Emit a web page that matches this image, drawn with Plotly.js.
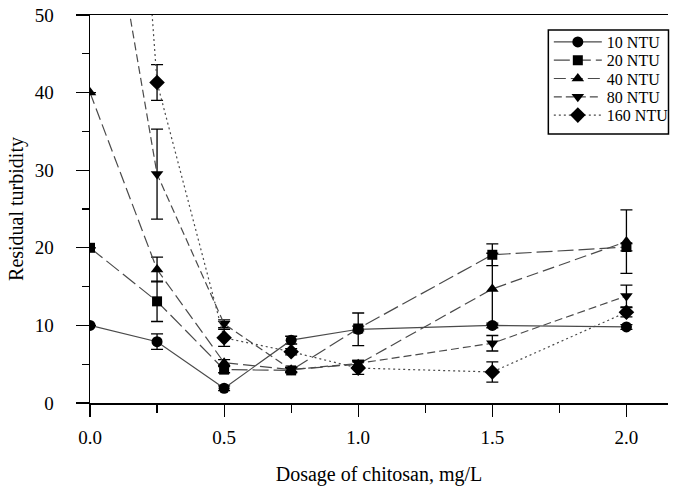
<!DOCTYPE html>
<html>
<head>
<meta charset="utf-8">
<script src="https://cdn.plot.ly/plotly-3.0.1.min.js"></script>
<style>
html,body{margin:0;padding:0;background:#fff}
#chart{width:686px;height:489px}
</style>
</head>
<body>
<div id="chart"></div>
<script>
// Dosage of chitosan (mg/L)
var dosage = [0, 0.25, 0.5, 0.75, 1.0, 1.5, 2.0];
// Residual turbidity for each initial turbidity
var ntu10  = [10, 7.9, 1.9, 8.1, 9.5, 10.0, 9.8];
var err10  = [0, 1.0, 0.3, 0.5, 2.1, 0.3, 0.3];
var ntu20  = [20, 13.1, 4.3, 4.2, 9.6, 19.1, 20.1];
var err20  = [0, 2.6, 0.4, 0.3, 0.3, 1.4, 0.5];
var ntu40  = [40, 17.2, 5.2, 4.3, 5.0, 14.7, 20.8];
var err40  = [0, 1.6, 0.4, 0.3, 0.5, 4.6, 4.1];
var ntu80  = [80, 29.5, 10.2, 4.3, 5.1, 7.7, 13.8];
var err80  = [0, 5.8, 0.5, 0.3, 0.4, 1.0, 1.4];
var ntu160 = [160, 41.3, 8.4, 6.6, 4.5, 4.0, 11.7];
var err160 = [0, 2.3, 1.1, 0.4, 0.8, 1.3, 0.6];

var names   = ["10 NTU", "20 NTU", "40 NTU", "80 NTU", "160 NTU"];
var xTickVals = [0, 0.5, 1.0, 1.5, 2.0];
var xTickText = ["0.0", "0.5", "1.0", "1.5", "2.0"];
var yTickVals = [0, 10, 20, 30, 40, 50];

var series  = [ntu10, ntu20, ntu40, ntu80, ntu160];
var errs    = [err10, err20, err40, err80, err160];
var symbols = ["circle", "square", "triangle-up", "triangle-down", "diamond"];
var dashes  = ["solid", "16px,5px", "12px,5px", "8px,4px", "2px,3px"];
var sizes   = [11, 10, 11, 11, 12];

var FONT = "Liberation Serif, Times New Roman, serif";

// plot area in px (for legend placement only)
var PL = 90, PR = 672, PT = 15, PB = 403;
function px2x(p) { return (p - PL) / (PR - PL); }
function px2y(p) { return (PB - p) / (PB - PT); }
var legendRows = [42, 60.3, 78.6, 96.9, 115.2];

var traces = series.map(function (s, i) {
  return {
    x: dosage, y: s, type: "scatter", mode: "lines+markers",
    name: names[i], legend: i === 0 ? "legend" : "legend" + (i + 1),
    line: {color: "#4a4a4a", width: 1.2, dash: dashes[i]},
    marker: {symbol: symbols[i], size: sizes[i], color: "#000"},
    error_y: {type: "data", array: errs[i], visible: true, color: "#000", thickness: 1.3, width: 6}
  };
});

var layout = {
  width: 686, height: 489,
  margin: {l: 90, r: 14, t: 15, b: 86},
  paper_bgcolor: "#fff", plot_bgcolor: "#fff",
  font: {family: FONT, size: 19, color: "#000"},
  showlegend: true,
  shapes: [{
    type: "rect", xref: "paper", yref: "paper",
    x0: px2x(551.5), x1: px2x(672.5), y0: px2y(134), y1: px2y(30),
    line: {color: "#000", width: 1.5}, fillcolor: "#fff", layer: "above"
  }],
  xaxis: {
    range: [0, 2.155], tickvals: xTickVals, ticktext: xTickText,
    ticks: "outside", ticklen: 12, tickwidth: 1.2, tickcolor: "#000",
    minor: {tickvals: [0.25, 0.75, 1.25, 1.75], ticks: "outside", ticklen: 8, tickwidth: 1.2, tickcolor: "#000"},
    showline: true, linecolor: "#000", linewidth: 1.5, mirror: true,
    showgrid: false, zeroline: false, ticklabelstandoff: 5,
    tickfont: {family: FONT, size: 19},
    title: {text: "Dosage of chitosan, mg/L", standoff: 19, font: {family: FONT, size: 20}}
  },
  yaxis: {
    range: [0, 50], tickvals: yTickVals,
    ticks: "outside", ticklen: 13, tickwidth: 1.2, tickcolor: "#000",
    minor: {tickvals: [5, 15, 25, 35, 45], ticks: "outside", ticklen: 7, tickwidth: 1.2, tickcolor: "#000"},
    showline: true, linecolor: "#000", linewidth: 1.5, mirror: false,
    showgrid: false, zeroline: false, ticklabelstandoff: 18,
    tickfont: {family: FONT, size: 19},
    title: {text: "Residual turbidity", standoff: 5, font: {family: FONT, size: 20}}
  }
};

legendRows.forEach(function (cy, i) {
  var key = i === 0 ? "legend" : "legend" + (i + 1);
  layout[key] = {
    x: px2x(552), y: px2y(cy), xanchor: "left", yanchor: "middle",
    bgcolor: "rgba(0,0,0,0)", borderwidth: 0, itemwidth: 48,
    font: {family: FONT, size: 16, color: "#000"}
  };
});

Plotly.newPlot("chart", traces, layout, {displayModeBar: false, staticPlot: true});
</script>
</body>
</html>
